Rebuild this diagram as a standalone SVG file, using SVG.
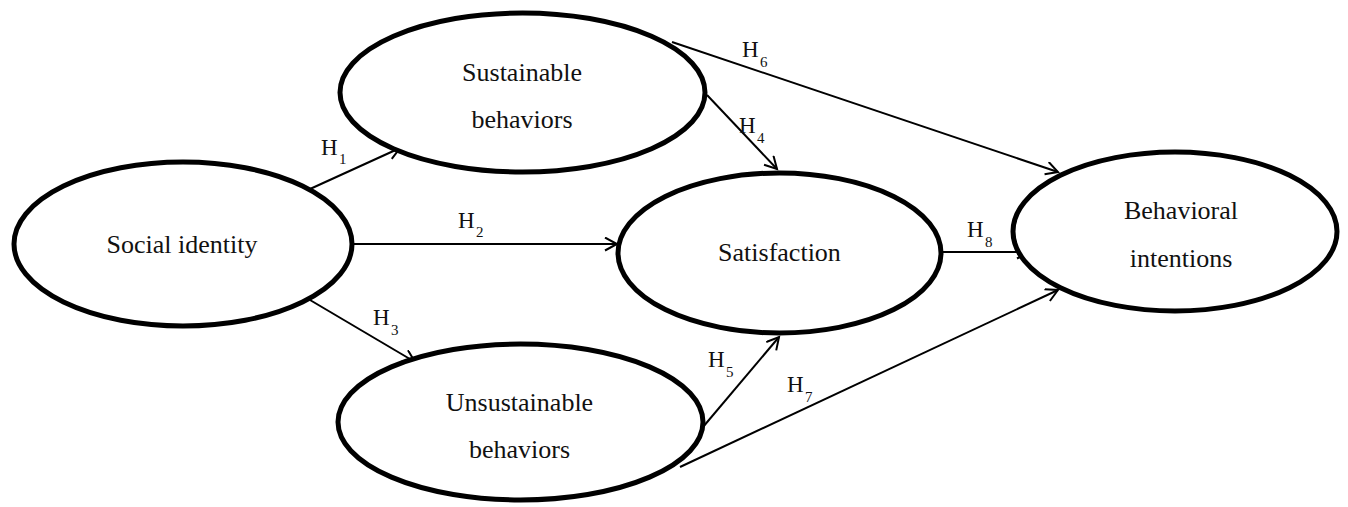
<svg xmlns="http://www.w3.org/2000/svg" width="1348" height="507" viewBox="0 0 1348 507">
<defs>
<style>
.node{fill:#fff;stroke:#000;stroke-width:5}
.lbl{font-family:"Liberation Serif","Times New Roman",serif;font-size:26px;fill:#111;text-anchor:middle}
.h{font-family:"Liberation Serif","Times New Roman",serif;font-size:23px;fill:#111}
.s{font-size:15px}
.edge{stroke:#000;stroke-width:2;fill:none;marker-end:url(#arr)}
</style>
<marker id="arr" markerUnits="userSpaceOnUse" markerWidth="16" markerHeight="16" refX="13" refY="7" orient="auto">
<path d="M1,0.5 L13,7 L1,13.5" fill="none" stroke="#000" stroke-width="2"/>
</marker>
</defs>
<rect width="1348" height="507" fill="#fff"/>
<g id="connectors">
<line class="edge" x1="310" y1="189" x2="400" y2="148"/>
<line class="edge" x1="353" y1="244" x2="617" y2="244"/>
<line class="edge" x1="310" y1="300" x2="415" y2="362"/>
<line class="edge" x1="707" y1="95" x2="777" y2="169"/>
<line class="edge" x1="703" y1="427" x2="779" y2="337"/>
<line class="edge" x1="672" y1="42" x2="1058" y2="172"/>
<line class="edge" x1="680" y1="467" x2="1058" y2="290"/>
<line class="edge" x1="943" y1="252" x2="1029" y2="252"/>
</g>
<g id="node-social">
<ellipse class="node" cx="183" cy="244" rx="169" ry="82"/>
<text class="lbl" x="182" y="253">Social identity</text>
</g>
<g id="node-sustainable">
<ellipse class="node" cx="522.5" cy="92.5" rx="182.5" ry="79.5"/>
<text class="lbl" x="522" y="81">Sustainable</text>
<text class="lbl" x="522" y="128">behaviors</text>
</g>
<g id="node-satisfaction">
<ellipse class="node" cx="779.5" cy="253" rx="161.5" ry="80"/>
<text class="lbl" x="779.5" y="261">Satisfaction</text>
</g>
<g id="node-unsustainable">
<ellipse class="node" cx="520.5" cy="422" rx="182.5" ry="78"/>
<text class="lbl" x="519.5" y="411">Unsustainable</text>
<text class="lbl" x="519.5" y="458">behaviors</text>
</g>
<g id="node-behavioral">
<ellipse class="node" cx="1175" cy="231.5" rx="162" ry="79.5"/>
<text class="lbl" x="1181" y="219">Behavioral</text>
<text class="lbl" x="1181" y="267">intentions</text>
</g>
<g id="edge-labels">
<text class="h" x="321" y="155">H<tspan class="s" x="339" y="164">1</tspan></text>
<text class="h" x="458" y="228">H<tspan class="s" x="476" y="237">2</tspan></text>
<text class="h" x="373" y="325">H<tspan class="s" x="391" y="335">3</tspan></text>
<text class="h" x="739" y="133">H<tspan class="s" x="757" y="143">4</tspan></text>
<text class="h" x="708" y="367">H<tspan class="s" x="726" y="377">5</tspan></text>
<text class="h" x="742" y="57">H<tspan class="s" x="760" y="67">6</tspan></text>
<text class="h" x="787" y="392">H<tspan class="s" x="805" y="402">7</tspan></text>
<text class="h" x="967" y="237">H<tspan class="s" x="985" y="247">8</tspan></text>
</g>
</svg>
